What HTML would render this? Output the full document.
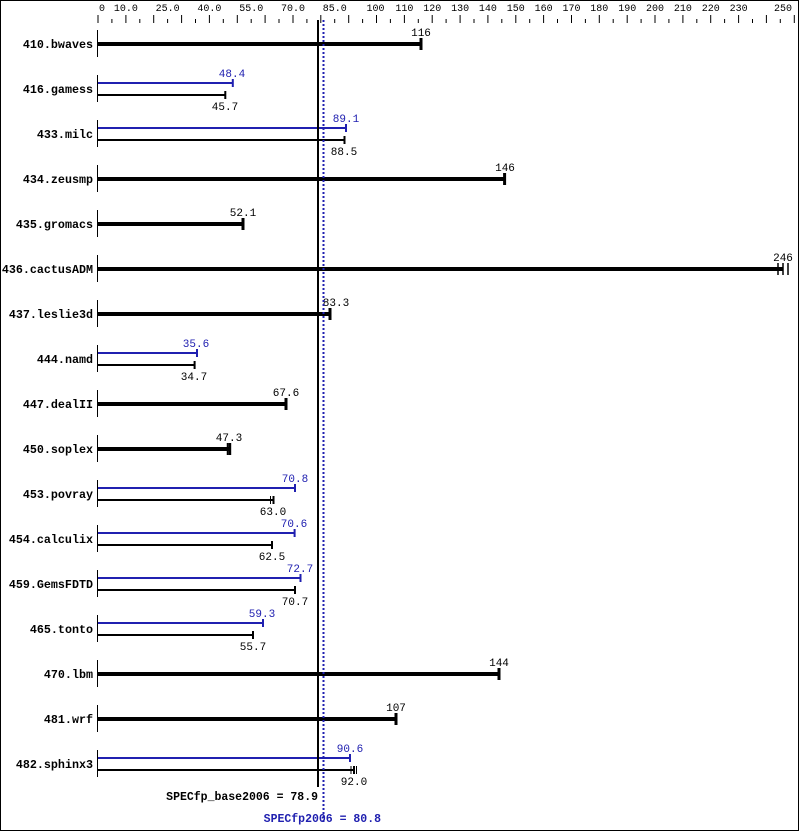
<!DOCTYPE html>
<html><head><meta charset="utf-8"><style>
html,body{margin:0;padding:0;background:#fff}
svg{display:block}
text{font-family:"Liberation Mono","DejaVu Sans Mono",monospace}
.n{font-size:11.7px;font-weight:bold;text-anchor:end;fill:#000}
.v{font-size:11px;text-anchor:middle;fill:#000}
.p{font-size:11px;text-anchor:middle;fill:#2020b0}
.t{font-size:10px;text-anchor:middle;fill:#000}
</style></head><body>
<svg width="799" height="831" viewBox="0 0 799 831" xmlns="http://www.w3.org/2000/svg">
<rect x="0.5" y="0.5" width="798" height="830" fill="#fff" stroke="#000"/>
<path stroke="#000" stroke-width="1" fill="none" d="M98 15V23M125.9 15V23M153.7 15V23M181.6 15V23M209.4 15V23M237.3 15V23M265.1 15V23M293 15V23M320.8 15V23M348.7 15V23M376.5 15V23M404.4 15V23M432.2 15V23M460.1 15V23M487.9 15V23M515.8 15V23M543.6 15V23M571.5 15V23M599.3 15V23M627.2 15V23M655 15V23M682.9 15V23M710.7 15V23M738.6 15V23M766.4 15V23M794.3 15V23
M111.9 19V23M139.8 19V23M167.6 19V23M195.5 19V23M223.3 19V23M251.2 19V23M279 19V23M306.9 19V23M334.7 19V23M362.6 19V23M390.4 19V23M418.3 19V23M446.1 19V23M474 19V23M501.8 19V23M529.7 19V23M557.5 19V23M585.4 19V23M613.2 19V23M641.1 19V23M668.9 19V23M696.8 19V23M724.6 19V23M752.5 19V23M780.3 19V23"/>
<g class="t">
<text x="102" y="11">0</text><text x="125.9" y="11">10.0</text><text x="167.6" y="11">25.0</text><text x="209.4" y="11">40.0</text><text x="251.2" y="11">55.0</text><text x="293" y="11">70.0</text><text x="334.7" y="11">85.0</text><text x="375.5" y="11">100</text><text x="404.4" y="11">110</text><text x="432.2" y="11">120</text><text x="460.1" y="11">130</text><text x="487.9" y="11">140</text><text x="515.8" y="11">150</text><text x="543.6" y="11">160</text><text x="571.5" y="11">170</text><text x="599.3" y="11">180</text><text x="627.2" y="11">190</text><text x="655" y="11">200</text><text x="682.9" y="11">210</text><text x="710.7" y="11">220</text><text x="738.6" y="11">230</text><text x="783" y="11">250</text>
</g>
<path stroke="#000" stroke-width="1" d="M97.5 30V57M97.5 75V102M97.5 120V147M97.5 165V192M97.5 210V237M97.5 255V282M97.5 300V327M97.5 345V372M97.5 390V417M97.5 435V462M97.5 480V507M97.5 525V552M97.5 570V597M97.5 615V642M97.5 660V687M97.5 705V732M97.5 750V777"/>
<g class="n">
<text x="93" y="48">410.bwaves</text><text x="93" y="93">416.gamess</text><text x="93" y="138">433.milc</text><text x="93" y="183">434.zeusmp</text><text x="93" y="228">435.gromacs</text><text x="93" y="273">436.cactusADM</text><text x="93" y="318">437.leslie3d</text><text x="93" y="363">444.namd</text><text x="93" y="408">447.dealII</text><text x="93" y="453">450.soplex</text><text x="93" y="498">453.povray</text><text x="93" y="543">454.calculix</text><text x="93" y="588">459.GemsFDTD</text><text x="93" y="633">465.tonto</text><text x="93" y="678">470.lbm</text><text x="93" y="723">481.wrf</text><text x="93" y="768">482.sphinx3</text>
</g>
<g stroke="#000" fill="none">
<path stroke-width="4" d="M98 44H421M98 179H504.6M98 224H243M98 269H783M98 314H330M98 404H286M98 449H229.7M98 674H499M98 719H396"/>
<path stroke-width="3" d="M421 38V50M504.6 173V185M243 218V230M330 308V320M286 398V410M229.7 443V455M499 668V680M396 713V725"/>
<path stroke-width="1.5" d="M778 263V275M783 263V275M788 263V275M227.5 443V455"/>
</g>
<g class="v">
<text x="421" y="36">116</text><text x="505" y="171">146</text><text x="243" y="216">52.1</text><text x="783" y="261">246</text><text x="336" y="306">83.3</text><text x="286" y="396">67.6</text><text x="229" y="441">47.3</text><text x="499" y="666">144</text><text x="396" y="711">107</text>
</g>
<g stroke="#2020b0" fill="none" stroke-width="2">
<path d="M98 83H232.8M98 128H346M98 353H197M98 488H295M98 533H294.6M98 578H300.5M98 623H263M98 758H350"/>
<path d="M232.8 79V87M346 124V132M197 349V357M295 484V492M294.6 529V537M300.5 574V582M263 619V627M350 754V762"/>
</g>
<g class="p">
<text x="232" y="77">48.4</text><text x="346" y="122">89.1</text><text x="196" y="347">35.6</text><text x="295" y="482">70.8</text><text x="294" y="527">70.6</text><text x="300" y="572">72.7</text><text x="262" y="617">59.3</text><text x="350" y="752">90.6</text>
</g>
<g stroke="#000" fill="none" stroke-width="2">
<path d="M98 95H225.3M98 140H344.5M98 365H194.6M98 500H273.5M98 545H272M98 590H295M98 635H253M98 770H354"/>
<path d="M225.3 91V99M344.5 136V144M194.6 361V369M273.5 496V504M272 541V549M295 586V594M253 631V639M354 766V774"/>
<path stroke-width="1" d="M270.5 496V504M351 766V774M356.5 766V774"/>
</g>
<g class="v">
<text x="225" y="110">45.7</text><text x="344" y="155">88.5</text><text x="194" y="380">34.7</text><text x="273" y="515">63.0</text><text x="272" y="560">62.5</text><text x="295" y="605">70.7</text><text x="253" y="650">55.7</text><text x="354" y="785">92.0</text>
</g>
<line x1="318" y1="20" x2="318" y2="787" stroke="#000" stroke-width="2"/>
<line x1="323.5" y1="20" x2="323.5" y2="823" stroke="#2020b0" stroke-width="2" stroke-dasharray="2,2"/>
<text x="318" y="800" style="font-size:11.5px;font-weight:bold;text-anchor:end;fill:#000">SPECfp_base2006 = 78.9</text>
<text x="381" y="822" style="font-size:11.5px;font-weight:bold;text-anchor:end;fill:#2020b0">SPECfp2006 = 80.8</text>
</svg>
</body></html>
